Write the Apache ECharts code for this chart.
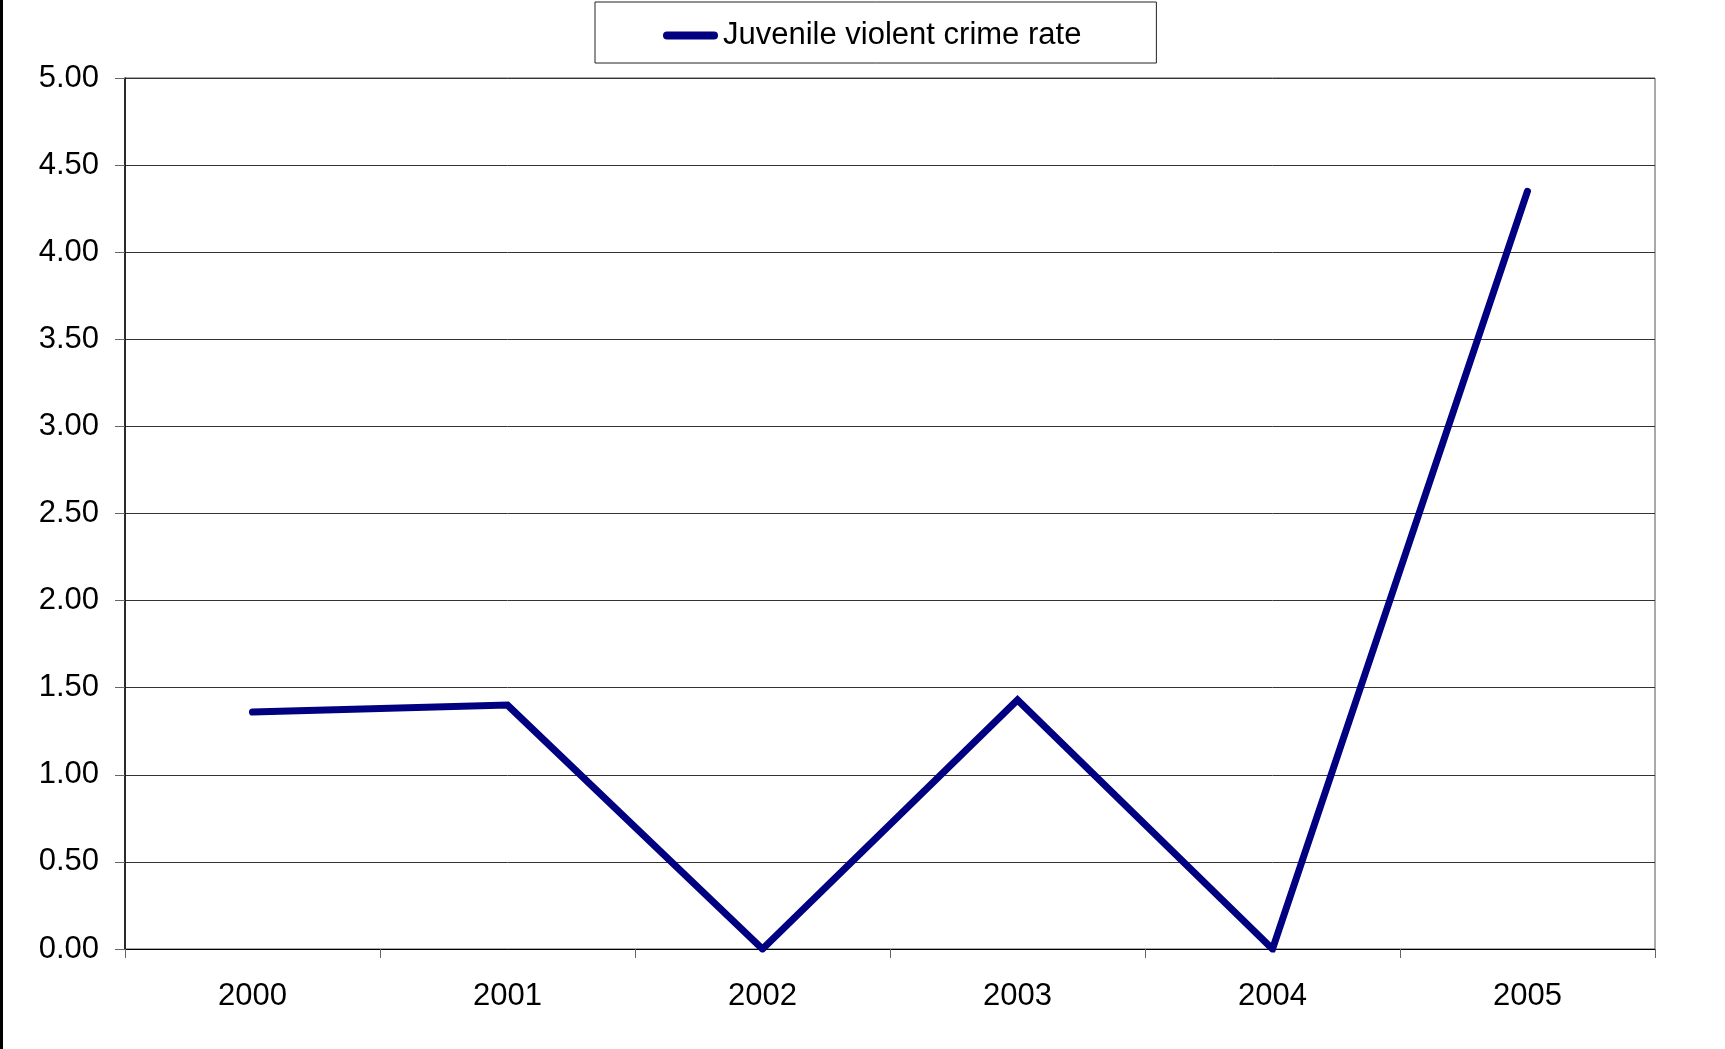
<!DOCTYPE html>
<html lang="en">
<head>
    <meta charset="UTF-8">
    <title>Juvenile violent crime rate</title>
    <style>
        html, body {
            margin: 0;
            padding: 0;
            background: #fff;
        }

        #chart {
            width: 1725px;
            height: 1049px;
        }
    </style>
</head>
<body>
<div id="chart"></div>
<script src="https://cdn.jsdelivr.net/npm/echarts@6/dist/echarts.min.js"></script>
<script>
    // values
    var years = ['2000', '2001', '2002', '2003', '2004', '2005'];
    var crimeRate = [1.36, 1.40, 0.00, 1.43, 0.00, 4.35];
    var seriesName = 'Juvenile violent crime rate';

    var font = 'Liberation Sans, Arial, sans-serif';

    var option = {
        animation: false,
        backgroundColor: '#fff',
        textStyle: {fontFamily: font},
        graphic: [
            {
                // thin black frame edge on the far left
                type: 'rect',
                left: 0,
                top: 0,
                shape: {width: 3, height: 1049},
                style: {fill: '#000'}
            }
        ],
        legend: {
            left: 595,
            top: 2,
            padding: [18, 75, 12, 68],
            borderColor: '#222',
            borderWidth: 1,
            itemWidth: 55,
            itemHeight: 8,
            textStyle: {fontSize: 31, color: '#000', fontFamily: font},
            data: [{
                name: seriesName,
                // rounded bar, like a thick line with round caps
                icon: 'path://M4,0 L51,0 A4,4 0 0 1 51,8 L4,8 A4,4 0 0 1 4,0 Z'
            }]
        },
        grid: {
            left: 125,
            right: 70,
            top: 78,
            bottom: 100,
            show: true,
            borderColor: '#555',
            borderWidth: 1,
            backgroundColor: 'transparent'
        },
        xAxis: {
            type: 'category',
            data: years,
            boundaryGap: true,
            axisLine: {lineStyle: {color: '#000', width: 1}},
            axisTick: {show: true, length: 9, lineStyle: {color: '#666'}},
            axisLabel: {fontSize: 31, color: '#000', margin: 32, fontFamily: font},
            splitLine: {show: false}
        },
        yAxis: {
            type: 'value',
            min: 0,
            max: 5,
            interval: 0.5,
            axisLine: {show: true, lineStyle: {color: '#000', width: 1.5}},
            axisTick: {show: true, length: 10, lineStyle: {color: '#666'}},
            axisLabel: {
                fontSize: 31,
                color: '#000',
                margin: 26,
                fontFamily: font,
                formatter: function (v) {
                    return v.toFixed(2);
                }
            },
            splitLine: {show: true, lineStyle: {color: '#333', width: 1}}
        },
        series: [
            {
                name: seriesName,
                type: 'line',
                data: crimeRate,
                symbol: 'none',
                lineStyle: {color: '#000080', width: 7, cap: 'round', join: 'miter'},
                itemStyle: {color: '#000080'}
            }
        ]
    };

    var myChart = echarts.init(document.getElementById('chart'));
    myChart.setOption(option);
</script>
</body>
</html>
